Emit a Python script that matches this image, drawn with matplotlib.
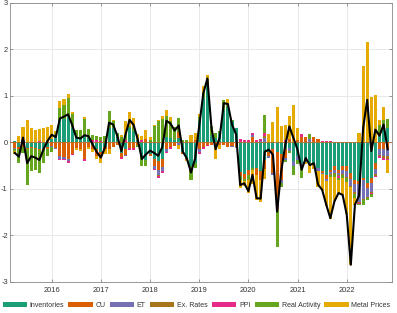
import numpy as np
import matplotlib.pyplot as plt

plt.rcParams['font.family'] = ['Liberation Sans', 'DejaVu Sans']
plt.rcParams['axes.unicode_minus'] = False

# monthly data, Apr 2015 .. Nov 2022
start_year, start_month = 2015, 4
n_months = 92

labels = ['Inventories', 'CU', 'ET', 'Ex. Rates', 'PPI', 'Real Activity', 'Metal Prices']
colors = ['#1b9e77', '#d95f02', '#7570b3', '#a6761d', '#e7298a', '#66a61e', '#e6ab02']

# contributions per month: inventories, CU, ET, ex. rates, PPI, real activity, metal prices
rows = [
    # 2015
    [0.02, -0.12, -0.02, 0, 0, -0.05, -0.06],
    [-0.10, -0.05, 0, 0, 0, -0.30, 0.14],
    [0.03, -0.10, -0.01, 0, 0.01, -0.12, 0.29],
    [-0.12, -0.03, 0, 0, 0, -0.77, 0.47],
    [-0.10, -0.02, 0, 0, 0, -0.49, 0.31],
    [-0.12, -0.02, 0, 0, 0, -0.45, 0.26],
    [-0.15, -0.02, 0, 0, 0.02, -0.50, 0.27],
    [-0.15, -0.02, 0, 0, 0, -0.28, 0.30],
    [-0.10, -0.05, 0, 0, 0.01, -0.15, 0.32],
    # 2016
    [0.08, -0.08, -0.02, 0, 0, -0.10, 0.28],
    [0.12, -0.12, -0.02, 0, 0, 0.05, 0.08],
    [0.48, -0.30, -0.05, 0, -0.03, 0.25, 0.16],
    [0.50, -0.32, -0.03, 0, -0.03, 0.30, 0.13],
    [0.55, -0.36, -0.04, 0, -0.04, 0.40, 0.09],
    [0.30, -0.25, 0, 0, -0.02, 0.30, 0.04],
    [0.10, -0.12, 0, 0, 0, 0.16, -0.04],
    [0.10, -0.15, 0, 0, 0, 0.16, -0.03],
    [0.15, -0.35, 0, 0, -0.05, 0.35, 0.05],
    [0.10, -0.10, 0, 0, 0, 0.18, -0.05],
    [-0.05, -0.10, 0, 0, 0.05, 0.10, -0.05],
    [-0.15, -0.15, 0, 0, 0.04, 0.10, -0.05],
    # 2017
    [-0.20, -0.10, 0, 0, 0.02, 0.10, -0.15],
    [-0.10, -0.05, 0, 0, 0, 0.14, -0.10],
    [0.30, -0.15, 0, 0, 0, 0.37, -0.10],
    [0.30, -0.10, 0, 0, 0, 0.15, 0.03],
    [0.12, -0.05, 0, 0, 0, 0.07, 0.0],
    [-0.24, -0.08, 0, 0, -0.03, 0.12, 0.04],
    [-0.15, -0.12, -0.03, 0, 0.04, 0.12, 0.30],
    [0.30, -0.12, 0, 0, -0.04, 0.05, 0.29],
    [0.25, -0.12, 0, 0, -0.04, 0.08, 0.20],
    [0.05, -0.06, 0, 0, 0, -0.05, 0.12],
    [-0.30, 0, 0, 0, 0.04, -0.20, 0.10],
    [-0.38, 0.06, 0, 0, 0, -0.14, 0.20],
    # 2018
    [-0.25, -0.05, 0, 0, 0, 0.05, 0.07],
    [-0.35, -0.15, -0.07, 0, -0.03, 0.34, 0.03],
    [-0.40, -0.20, -0.10, -0.02, -0.05, 0.45, 0.03],
    [-0.35, -0.18, -0.08, 0, -0.05, 0.50, 0.06],
    [0.12, -0.15, -0.05, 0, -0.03, 0.45, 0.12],
    [0.10, -0.10, 0, 0, -0.04, 0.35, 0.09],
    [0.05, -0.07, 0, 0, 0, 0.27, 0.0],
    [0.10, 0.11, -0.05, 0, 0, 0.30, -0.10],
    [-0.20, -0.05, 0, 0, 0, 0.05, 0.0],
    [-0.35, -0.03, 0, 0, 0, 0.05, -0.02],
    [-0.50, -0.01, 0, 0, 0, -0.30, 0.16],
    [-0.45, 0.05, 0, 0, 0, -0.10, 0.15],
    # 2019
    [0.45, -0.15, -0.05, 0, -0.05, 0.10, 0.05],
    [0.95, -0.10, 0, 0, -0.05, 0.10, 0.15],
    [1.25, -0.05, 0, 0, -0.03, 0.10, 0.10],
    [0.15, -0.05, 0, 0, 0, 0.20, 0.0],
    [0.10, -0.10, 0, 0, 0, 0.10, -0.25],
    [0.20, -0.05, 0, 0, 0, 0.05, -0.10],
    [0.70, -0.06, 0, 0, 0, 0.20, 0.0],
    [0.75, -0.10, 0, 0, 0, 0.07, 0.10],
    [0.46, -0.08, -0.02, 0, 0, 0.02, 0.0],
    [0.30, -0.10, -0.03, 0, 0, 0, 0.0],
    [-0.63, -0.10, 0, 0, 0.06, -0.08, -0.17],
    [-0.68, -0.10, 0, 0, 0.05, -0.05, -0.10],
    # 2020
    [-0.60, -0.10, 0, 0, 0.05, -0.10, -0.30],
    [-0.55, 0.12, 0.03, 0, 0.05, -0.05, -0.30],
    [-0.55, -0.15, 0, 0, 0.04, 0, -0.54],
    [-0.62, -0.20, 0.03, 0, 0.05, 0, -0.47],
    [-0.38, -0.20, 0.10, 0.04, 0.05, 0.40, -0.21],
    [-0.20, -0.10, -0.04, 0, 0, 0, 0.18],
    [-0.15, -0.52, -0.04, 0, 0, 0, 0.44],
    [-0.20, -1.15, -0.05, 0, -0.03, -0.82, 0.76],
    [-0.25, -0.55, -0.07, 0, 0, -0.10, 0.34],
    [-0.15, -0.18, -0.05, 0, 0.05, -0.05, 0.32],
    [-0.13, 0.07, -0.05, 0, 0, -0.05, 0.50],
    [-0.40, 0, -0.10, 0, 0, -0.21, 0.80],
    # 2021
    [-0.30, 0.05, -0.08, 0, 0, -0.08, 0.25],
    [-0.45, 0.12, -0.10, 0, 0.05, -0.21, 0],
    [-0.40, 0.12, -0.03, 0, 0, 0, -0.03],
    [-0.45, 0, 0.08, 0, 0, 0.09, -0.21],
    [-0.45, 0.12, 0, 0, 0, 0, -0.12],
    [-0.55, 0.06, -0.06, 0, 0, 0, -0.36],
    [-0.62, -0.04, -0.03, 0, 0.03, 0, -0.36],
    [-0.70, -0.08, -0.06, 0, 0.02, 0, -0.52],
    [-0.59, -0.05, -0.05, -0.02, 0.02, -0.04, -0.90],
    [-0.52, -0.08, -0.06, -0.03, 0, -0.06, -0.52],
    [-0.59, -0.06, -0.06, -0.02, -0.03, -0.04, -0.29],
    [-0.52, -0.08, -0.08, -0.02, 0, -0.06, -0.37],
    # 2022
    [-0.52, -0.10, -0.12, -0.03, 0, -0.08, -0.70],
    [-0.66, -0.12, -0.15, -0.03, 0, 0, -1.67],
    [-0.81, -0.08, -0.18, -0.04, 0, -0.08, -0.15],
    [-0.84, -0.05, -0.39, -0.02, -0.02, -0.02, 0.19],
    [-0.77, -0.05, -0.39, -0.02, 0, -0.11, 1.64],
    [-0.88, -0.10, -0.20, -0.02, 0, -0.05, 2.16],
    [-0.77, -0.10, -0.20, -0.03, -0.02, -0.05, 0.98],
    [-0.45, -0.12, -0.12, -0.03, -0.02, 0, 1.01],
    [0.15, -0.15, -0.12, -0.03, -0.04, 0.23, 0.10],
    [0.26, -0.15, -0.14, -0.04, -0.05, 0.21, 0.29],
    [0.30, -0.15, -0.15, -0.05, -0.03, 0.20, -0.27],
]
contrib = np.array(rows)
total = contrib.sum(axis=1)

x = start_year + (start_month - 1 + np.arange(n_months)) / 12.0
width = 0.75 / 12

fig = plt.figure(figsize=(3.97, 3.13), dpi=100)
ax = fig.add_axes([10 / 397, 31 / 313, 382.3 / 397, 279.5 / 313])

pos_base = np.zeros(n_months)
neg_base = np.zeros(n_months)
for i, (lab, col) in enumerate(zip(labels, colors)):
    v = contrib[:, i]
    pos = np.where(v > 0, v, 0)
    neg = np.where(v < 0, v, 0)
    ax.bar(x, pos, width, bottom=pos_base, color=col, label=lab, linewidth=0, zorder=2)
    ax.bar(x, neg, width, bottom=neg_base, color=col, linewidth=0, zorder=2)
    pos_base += pos
    neg_base += neg

ax.axhline(0, color='#b8702e', lw=0.6, zorder=3)
ax.plot(x, total, color='black', lw=1.5, zorder=4)

ax.set_xlim(2015.152, 2022.927)
ax.set_ylim(-3, 3)
ax.set_xticks(range(2016, 2023))
ax.set_yticks(range(-3, 4))
ax.grid(True, color='#e4e4e4', lw=0.6, zorder=0)
ax.set_axisbelow(True)
ax.tick_params(direction='in', length=2, width=0.5, colors='#777777', labelcolor='#333333',
               labelsize=5.4, top=True, right=True)
ax.tick_params(axis='x', pad=3.5)
ax.tick_params(axis='y', pad=1.5)
for s in ax.spines.values():
    s.set_color('#888888')
    s.set_linewidth(0.6)

fig.legend(loc='center', bbox_to_anchor=(0.495, 0.025), ncol=7, frameon=False, fontsize=5.0,
           handlelength=3.5, handleheight=0.85, handletextpad=0.4, columnspacing=0.6,
           borderaxespad=0, labelcolor='#333333')

fig.savefig('out.png', dpi=100)
